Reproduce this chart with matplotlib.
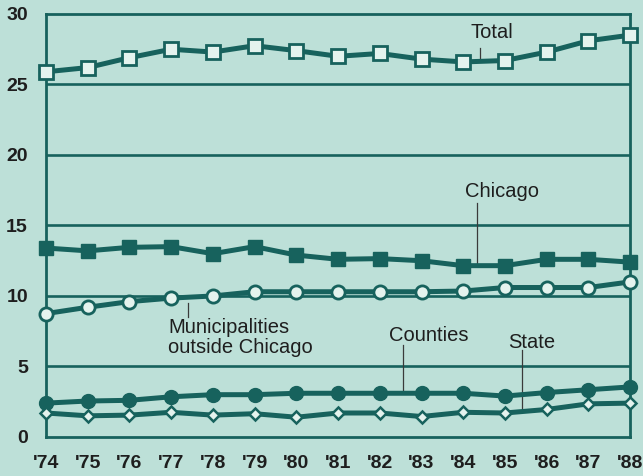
import matplotlib
matplotlib.use("Agg")
import matplotlib.pyplot as plt

years = list(range(1974, 1989))
year_labels = ["'74", "'75", "'76", "'77", "'78", "'79", "'80", "'81",
               "'82", "'83", "'84", "'85", "'86", "'87", "'88"]
total = [25.9, 26.2, 26.9, 27.5, 27.3, 27.75, 27.4, 27.0, 27.2, 26.8, 26.6, 26.7, 27.3, 28.1, 28.5]
chicago = [13.4, 13.2, 13.45, 13.5, 13.0, 13.5, 12.9, 12.6, 12.65, 12.5, 12.15, 12.15, 12.6, 12.6, 12.4]
municipalities = [8.75, 9.2, 9.6, 9.85, 10.0, 10.3, 10.3, 10.3, 10.3, 10.3, 10.35, 10.6, 10.6, 10.6, 11.0]
counties = [2.4, 2.55, 2.6, 2.85, 3.0, 3.0, 3.1, 3.1, 3.1, 3.1, 3.1, 2.9, 3.15, 3.35, 3.55]
state = [1.7, 1.5, 1.55, 1.75, 1.55, 1.65, 1.4, 1.7, 1.7, 1.45, 1.75, 1.7, 1.95, 2.35, 2.4]
y_ticks = [0, 5, 10, 15, 20, 25, 30]

BG = "#bde0d8"
LINE = "#17625d"
LIGHT = "#e4f3ee"
TXT = "#1e1e1e"

plt.rcParams['font.family'] = ['Liberation Sans', 'DejaVu Sans']

fig = plt.figure(figsize=(6.43, 4.76), dpi=100, facecolor=BG)
ax = fig.add_axes([0.0715, 0.082, 0.9085, 0.8886], facecolor=BG)

ax.set_xlim(1974, 1988)
ax.set_ylim(0, 30)

for v in y_ticks[1:-1]:
    ax.axhline(v, color=LINE, lw=1.9, zorder=1)

lw = 3.6
ax.plot(years, total, color=LINE, lw=lw, marker='s', ms=9.5, mfc=LIGHT, mec=LINE, mew=2.0, clip_on=False, zorder=5)
ax.plot(years, chicago, color=LINE, lw=lw, marker='s', ms=9.5, mfc=LINE, mec=LINE, clip_on=False, zorder=5)
ax.plot(years, municipalities, color=LINE, lw=lw, marker='o', ms=9.5, mfc=LIGHT, mec=LINE, mew=2.0, clip_on=False, zorder=5)
ax.plot(years, counties, color=LINE, lw=lw, marker='o', ms=10, mfc=LINE, mec=LINE, clip_on=False, zorder=5)
ax.plot(years, state, color=LINE, lw=lw, marker='D', ms=6.5, mfc=LIGHT, mec=LINE, mew=1.8, clip_on=False, zorder=5)

for s in ax.spines.values():
    s.set_color(LINE)
    s.set_linewidth(2.0)

ax.set_xticks(years)
ax.set_xticklabels(year_labels)
ax.set_yticks(y_ticks)
ax.tick_params(axis='both', length=0, labelsize=14, labelcolor=TXT)
ax.tick_params(axis='x', pad=13)
ax.tick_params(axis='y', pad=13)
for lab in ax.get_xticklabels() + ax.get_yticklabels():
    lab.set_fontweight('bold')

fs = 14.5
lead = dict(color="#3a3a3a", lw=0.9, zorder=3)
ax.text(1984.69, 28.72, "Total", ha='center', va='center', fontsize=fs, color=TXT)
ax.plot([1984.4, 1984.4], [27.6, 26.9], **lead)
ax.text(1984.93, 17.38, "Chicago", ha='center', va='center', fontsize=fs, color=TXT)
ax.plot([1984.33, 1984.33], [16.6, 12.2], **lead)
ax.text(1976.93, 7.06, "Municipalities\noutside Chicago", ha='left', va='center',
        fontsize=fs, color=TXT, linespacing=1.05)
ax.plot([1977.41, 1977.41], [9.5, 8.5], **lead)
ax.text(1983.17, 7.23, "Counties", ha='center', va='center', fontsize=fs, color=TXT)
ax.plot([1982.55, 1982.55], [6.5, 3.1], **lead)
ax.text(1985.65, 6.67, "State", ha='center', va='center', fontsize=fs, color=TXT)
ax.plot([1985.41, 1985.41], [6.15, 1.85], **lead)

fig.savefig("out.png", dpi=100, facecolor=BG)
